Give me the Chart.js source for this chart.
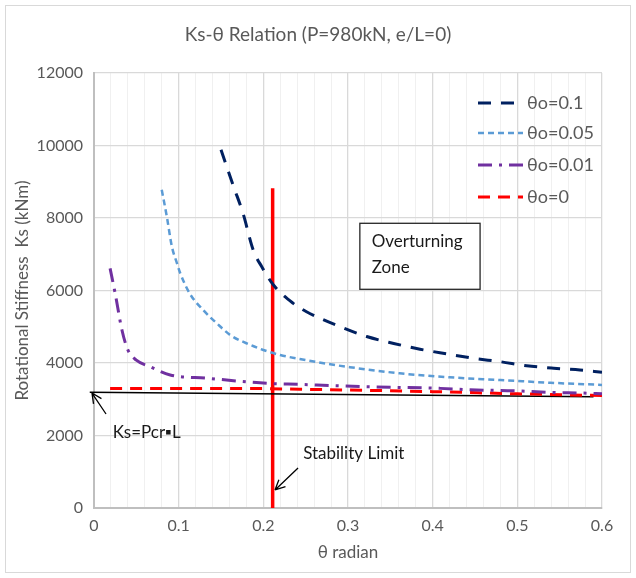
<!DOCTYPE html>
<html>
<head>
<meta charset="utf-8">
<script src="https://cdn.jsdelivr.net/npm/chart.js@4.4.1/dist/chart.umd.min.js"></script>
<style>
  html, body { margin: 0; padding: 0; background: #ffffff; }
  #wrap { width: 636px; height: 578px; }
</style>
</head>
<body>
<div id="wrap"><canvas id="ksChart" width="636" height="578"></canvas></div>
<script>
// values
const theta01 = [0.15, 0.165, 0.176, 0.188, 0.198, 0.212, 0.235, 0.251, 0.295, 0.322, 0.354, 0.385, 0.417, 0.448, 0.48, 0.511, 0.543, 0.574, 0.6];
const ks01 = [9880, 8860, 8130, 7120, 6660, 6150, 5650, 5415, 4960, 4730, 4540, 4380, 4250, 4130, 4035, 3925, 3855, 3805, 3745];

const theta005 = [0.08, 0.086, 0.092, 0.098, 0.102, 0.113, 0.129, 0.145, 0.161, 0.18, 0.2, 0.22, 0.243, 0.279, 0.302, 0.361, 0.42, 0.48, 0.539, 0.6];
const ks005 = [8780, 8040, 7210, 6750, 6470, 5920, 5460, 5095, 4770, 4545, 4360, 4220, 4110, 3965, 3885, 3715, 3605, 3530, 3455, 3395];

const theta001 = [0.019, 0.025, 0.033, 0.04, 0.05, 0.066, 0.09, 0.133, 0.204, 0.243, 0.283, 0.322, 0.409, 0.452, 0.495, 0.539, 0.578, 0.6];
const ks001 = [6610, 5920, 4910, 4360, 4080, 3900, 3670, 3580, 3440, 3410, 3375, 3345, 3300, 3255, 3235, 3190, 3170, 3150];

const theta0 = [0.019, 0.1, 0.2, 0.243, 0.3, 0.4, 0.5, 0.6];
const ks0 = [3300, 3300, 3295, 3275, 3255, 3210, 3150, 3100];

// Ks = Pcr·L reference line
const thetaPcr = [-0.005, 0.59];
const ksPcr = [3195, 3070];

// stability limit (vertical red line)
const thetaLimit = [0.211, 0.211];
const ksLimit = [0, 8820];

const seriesLabels = ['θo=0.1', 'θo=0.05', 'θo=0.01', 'θo=0'];
const xTicks = [0, 0.1, 0.2, 0.3, 0.4, 0.5, 0.6];
const yTicks = [0, 2000, 4000, 6000, 8000, 10000, 12000];

const chartTitle = 'Ks-θ Relation (P=980kN, e/L=0)';
const xTitle = 'θ radian';
const yTitle = 'Rotational Stiffness  Ks (kNm)';

const FONT = 'Lato, "Open Sans", sans-serif';
const TEXT = '#595959';

function pts(xs, ys) {
    return xs.map((x, i) => ({ x: x, y: ys[i] }));
}

function isMajor(v) {
    return Math.abs(Math.round(v * 10) - v * 10) < 1e-6;
}

// open arrow head
function arrow(ctx, x1, y1, x2, y2) {
    ctx.beginPath();
    ctx.moveTo(x1, y1);
    ctx.lineTo(x2, y2);
    const a = Math.atan2(y2 - y1, x2 - x1);
    const h = 11;
    ctx.moveTo(x2, y2);
    ctx.lineTo(x2 - h * Math.cos(a - 0.45), y2 - h * Math.sin(a - 0.45));
    ctx.moveTo(x2, y2);
    ctx.lineTo(x2 - h * Math.cos(a + 0.45), y2 - h * Math.sin(a + 0.45));
    ctx.stroke();
}

const decorations = {
    id: 'decorations',
    beforeDraw(chart) {
        const ctx = chart.ctx;
        ctx.save();
        ctx.fillStyle = '#ffffff';
        ctx.fillRect(0, 0, chart.width, chart.height);
        ctx.strokeStyle = '#d9d9d9';
        ctx.lineWidth = 1;
        ctx.strokeRect(5.5, 5.5, 625, 567);
        ctx.restore();
    },
    afterDatasetsDraw(chart) {
        const ctx = chart.ctx;
        const xs = chart.scales.x, ys = chart.scales.y;
        const px = v => xs.getPixelForValue(v);
        const py = v => ys.getPixelForValue(v);
        ctx.save();

        // title
        ctx.fillStyle = TEXT;
        ctx.font = '19px ' + FONT;
        ctx.textAlign = 'center';
        ctx.textBaseline = 'middle';
        ctx.fillText(chartTitle, 318, 35);

        // overturning zone box
        ctx.strokeStyle = '#262626';
        ctx.lineWidth = 1.3;
        const bx1 = px(0.314), bx2 = px(0.456), by1 = py(7854), by2 = py(6033);
        ctx.fillStyle = '#ffffff';
        ctx.fillRect(bx1, by1, bx2 - bx1, by2 - by1);
        ctx.strokeRect(bx1, by1, bx2 - bx1, by2 - by1);
        ctx.fillStyle = '#1a1a1a';
        ctx.font = '17px ' + FONT;
        ctx.textAlign = 'left';
        ctx.fillText('Overturning', px(0.328), py(7338));
        ctx.fillText('Zone', px(0.328), py(6621));

        // Ks = Pcr·L label and arrow
        ctx.fillText('Ks=Pcr\u25AAL', px(0.022), py(2069));
        ctx.fillText('Stability Limit', px(0.247), py(1490));
        ctx.strokeStyle = '#000000';
        ctx.lineWidth = 1.3;
        arrow(ctx, px(0.0142), py(2593), px(-0.0024), py(3172));
        arrow(ctx, px(0.241), py(1103), px(0.2138), py(497));

        // legend
        const rows = [103, 133, 165, 197];
        ctx.font = '18px ' + FONT;
        ctx.textBaseline = 'middle';
        for (let i = 0; i < 4; i++) {
            const ds = chart.data.datasets[i];
            ctx.strokeStyle = ds.borderColor;
            ctx.lineWidth = ds.borderWidth;
            ctx.setLineDash(ds.borderDash);
            ctx.beginPath();
            ctx.moveTo(478, rows[i]);
            ctx.lineTo(523, rows[i]);
            ctx.stroke();
            ctx.setLineDash([]);
            ctx.fillStyle = TEXT;
            ctx.fillText(seriesLabels[i], 527, rows[i]);
        }
        ctx.restore();
    }
};

const ctx = document.getElementById('ksChart').getContext('2d');
new Chart(ctx, {
    type: 'scatter',
    data: {
        datasets: [{
            label: seriesLabels[0],
            data: pts(theta01, ks01),
            borderColor: '#002060',
            borderWidth: 3,
            borderDash: [13, 10]
        }, {
            label: seriesLabels[1],
            data: pts(theta005, ks005),
            borderColor: '#5b9bd5',
            borderWidth: 2.5,
            borderDash: [6, 4]
        }, {
            label: seriesLabels[2],
            data: pts(theta001, ks001),
            borderColor: '#7030a0',
            borderWidth: 3,
            borderDash: [14, 7, 3, 7]
        }, {
            label: seriesLabels[3],
            data: pts(theta0, ks0),
            borderColor: '#ff0000',
            borderWidth: 3,
            borderDash: [12, 8]
        }, {
            label: 'Ks=Pcr·L',
            data: pts(thetaPcr, ksPcr),
            borderColor: '#000000',
            borderWidth: 1.5,
            clip: false
        }, {
            label: 'Stability Limit',
            data: pts(thetaLimit, ksLimit),
            borderColor: '#ff0000',
            borderWidth: 3.5
        }]
    },
    options: {
        responsive: false,
        animation: false,
        showLine: true,
        elements: {
            point: { radius: 0, hoverRadius: 0 },
            line: { cubicInterpolationMode: 'monotone', fill: false }
        },
        layout: { padding: { left: 0, right: 34, top: 73, bottom: 0 } },
        plugins: {
            legend: { display: false },
            title: { display: false },
            tooltip: { enabled: false }
        },
        scales: {
            x: {
                type: 'linear',
                min: 0,
                max: 0.6,
                afterFit: scale => { scale.height = 70; },
                afterBuildTicks: scale => {
                    const t = [];
                    for (let i = 0; i <= 30; i++) t.push({ value: i * 0.02 });
                    scale.ticks = t;
                },
                ticks: {
                    autoSkip: false,
                    maxRotation: 0,
                    color: TEXT,
                    font: { family: FONT, size: 16 },
                    padding: 8,
                    callback: function (value) {
                        if (!isMajor(value)) return '';
                        const v = Math.round(value * 10) / 10;
                        return xTicks.indexOf(v) >= 0 ? String(v) : '';
                    }
                },
                grid: {
                    drawTicks: false,
                    color: c => (c.tick && isMajor(c.tick.value)) ? '#d9d9d9' : '#f0f0f0',
                    lineWidth: c => (c.tick && isMajor(c.tick.value)) ? 1.3 : 1
                },
                border: { color: '#bfbfbf', width: 2 },
                title: {
                    display: true,
                    text: xTitle,
                    color: TEXT,
                    font: { family: FONT, size: 17 },
                    padding: { top: 0, bottom: 15 }
                }
            },
            y: {
                min: 0,
                max: 12000,
                afterFit: scale => { scale.width = 94; },
                afterBuildTicks: scale => {
                    scale.ticks = yTicks.map(v => ({ value: v }));
                },
                ticks: {
                    color: TEXT,
                    font: { family: FONT, size: 16 },
                    padding: 11,
                    callback: v => String(v)
                },
                grid: {
                    drawTicks: false,
                    color: '#d9d9d9',
                    lineWidth: 1.3
                },
                border: { color: '#bfbfbf', width: 2 },
                title: {
                    display: true,
                    text: yTitle,
                    color: TEXT,
                    font: { family: FONT, size: 17 },
                    padding: { top: 12, bottom: 0 }
                }
            }
        }
    },
    plugins: [decorations]
});
</script>
</body>
</html>
